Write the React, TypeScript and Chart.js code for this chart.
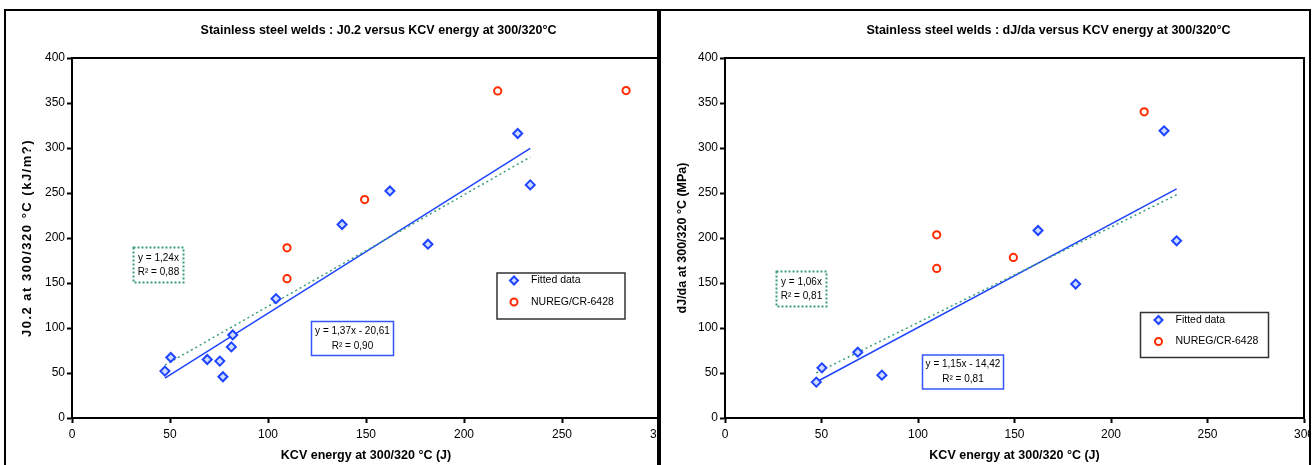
import React, { useEffect, useRef } from 'react';
import { Chart, registerables } from 'chart.js';

Chart.register(...registerables);

// ---------- shared axes ----------
const xTickValues = [0, 50, 100, 150, 200, 250, 300];
const yTickValues = [0, 50, 100, 150, 200, 250, 300, 350, 400];

// ---------- left chart: J0.2 ----------
const kcvFittedJ = [47.4, 50.4, 69.0, 75.4, 77.0, 81.3, 82.0, 104.1, 137.8, 162.2, 181.6, 227.4, 233.8];
const j02Fitted = [52.1, 67.3, 65.0, 63.2, 45.8, 79.0, 92.3, 132.6, 215.0, 252.3, 193.1, 316.1, 259.0];
const kcvNuregJ = [109.7, 109.7, 149.3, 217.2, 282.7];
const j02Nureg = [189.1, 154.8, 242.7, 363.4, 363.8];
const j02Linear = [1.37, -20.61]; // slope, intercept
const j02Proportional = [1.24];

// ---------- right chart: dJ/da ----------
const kcvFittedD = [47.3, 50.2, 68.8, 81.3, 162.2, 181.7, 227.5, 234.0];
const dJdaFitted = [39.9, 55.7, 73.1, 47.6, 208.3, 148.8, 319.1, 196.9];
const kcvNuregD = [109.7, 109.7, 149.4, 217.2];
const dJdaNureg = [203.5, 166.2, 178.4, 340.2];
const dJdaLinear = [1.15, -14.42];
const dJdaProportional = [1.06];

const seriesNames = ['Fitted data', 'NUREG/CR-6428'];

const FONT = '"Liberation Sans", Arial, Helvetica, sans-serif';
const BLUE = '#1f44ff';
const BLUE_FILL = '#cfdcff';
const RED = '#ff2a00';
const GREEN = '#3a9e78';

const zip = (xs: number[], ys: number[]) => xs.map((x, i) => ({ x, y: ys[i] }));

function fitLine(xs: number[], slope: number, intercept: number) {
  const lo = Math.min(...xs);
  const hi = Math.max(...xs);
  return [
    { x: lo, y: slope * lo + intercept },
    { x: hi, y: slope * hi + intercept },
  ];
}

const decorPlugin = {
  id: 'decor',
  afterDraw(chart: any, _args: any, opts: any) {
    const { ctx, chartArea: a } = chart;
    ctx.save();
    // plot frame
    ctx.strokeStyle = '#000';
    ctx.lineWidth = 2;
    ctx.strokeRect(a.left, a.top, a.right - a.left, a.bottom - a.top);

    // title
    ctx.font = `bold 12.5px ${FONT}`;
    ctx.fillStyle = '#000';
    ctx.textAlign = 'center';
    ctx.textBaseline = 'middle';
    ctx.fillText(opts.title, opts.titleX, opts.titleY);

    // y-axis title (rotated)
    ctx.save();
    ctx.translate(opts.yTitleX, (a.top + a.bottom) / 2);
    ctx.rotate(-Math.PI / 2);
    ctx.font = `bold ${opts.yTitleSize}px ${FONT}`;
    (ctx as any).letterSpacing = `${opts.yTitleSpacing}px`;
    ctx.textAlign = 'center';
    ctx.textBaseline = 'middle';
    ctx.fillText(opts.yTitle, 0, 0);
    (ctx as any).letterSpacing = '0px';
    ctx.restore();

    // equation boxes
    for (const b of opts.boxes) {
      ctx.save();
      ctx.fillStyle = '#fff';
      ctx.fillRect(b.x, b.y, b.w, b.h);
      ctx.strokeStyle = b.color;
      ctx.lineWidth = b.lw;
      ctx.setLineDash(b.dash);
      ctx.strokeRect(b.x, b.y, b.w, b.h);
      ctx.restore();
      ctx.font = `10px ${FONT}`;
      ctx.fillStyle = '#000';
      ctx.textAlign = 'center';
      ctx.textBaseline = 'middle';
      b.lines.forEach((t: string, i: number) => {
        ctx.fillText(t, b.x + b.w / 2, b.ly[i]);
      });
    }

    // legend
    const L = opts.legend;
    ctx.fillStyle = '#fff';
    ctx.fillRect(L.x, L.y, L.w, L.h);
    ctx.strokeStyle = '#333';
    ctx.lineWidth = 1.5;
    ctx.strokeRect(L.x, L.y, L.w, L.h);
    const mx = L.x + L.mx;
    let my = L.y + L.row1;
    ctx.beginPath();
    ctx.moveTo(mx, my - 4);
    ctx.lineTo(mx + 4, my);
    ctx.lineTo(mx, my + 4);
    ctx.lineTo(mx - 4, my);
    ctx.closePath();
    ctx.fillStyle = BLUE_FILL;
    ctx.fill();
    ctx.strokeStyle = BLUE;
    ctx.lineWidth = 2;
    ctx.stroke();
    ctx.font = `10.5px ${FONT}`;
    ctx.fillStyle = '#000';
    ctx.textAlign = 'left';
    ctx.textBaseline = 'middle';
    ctx.fillText(seriesNames[0], L.x + L.tx, my);
    my = L.y + L.row2;
    ctx.beginPath();
    ctx.arc(mx, my, 3.5, 0, Math.PI * 2);
    ctx.fillStyle = '#fff';
    ctx.fill();
    ctx.strokeStyle = RED;
    ctx.lineWidth = 2;
    ctx.stroke();
    ctx.fillStyle = '#000';
    ctx.fillText(seriesNames[1], L.x + L.tx, my);
    ctx.restore();
  },
};

function makeConfig(p: any) {
  return {
    type: 'scatter',
    data: {
      datasets: [
        {
          label: seriesNames[0],
          data: zip(p.fx, p.fy),
          pointStyle: 'rectRot',
          pointRadius: 4.5,
          pointBorderWidth: 2,
          borderColor: BLUE,
          backgroundColor: BLUE_FILL,
          order: 0,
        },
        {
          label: seriesNames[1],
          data: zip(p.nx, p.ny),
          pointStyle: 'circle',
          pointRadius: 3.6,
          pointBorderWidth: 2,
          borderColor: RED,
          backgroundColor: '#fff',
          order: 0,
        },
        {
          type: 'line',
          label: 'linear',
          data: fitLine(p.fx, p.lin[0], p.lin[1]),
          borderColor: BLUE,
          borderWidth: 1.5,
          pointRadius: 0,
          order: 2,
        },
        {
          type: 'line',
          label: 'proportional',
          data: fitLine(p.fx, p.prop[0], 0),
          borderColor: GREEN,
          borderWidth: 1.5,
          borderDash: [2, 3],
          pointRadius: 0,
          order: 1,
        },
      ],
    },
    options: {
      animation: false,
      responsive: false,
      devicePixelRatio: 1,
      layout: { padding: { left: 0, top: 58, right: p.padRight, bottom: 0 } },
      plugins: {
        legend: { display: false },
        tooltip: { enabled: false },
        title: { display: false },
        decor: p.decor,
      },
      scales: {
        x: {
          type: 'linear',
          min: xTickValues[0],
          max: xTickValues[xTickValues.length - 1],
          afterBuildTicks: (s: any) => { s.ticks = xTickValues.map((v) => ({ value: v })); },
          afterFit: (s: any) => { s.height = 47; },
          ticks: { color: '#000', font: { family: FONT, size: 12 }, padding: 4, maxRotation: 0, autoSkip: false },
          grid: { drawOnChartArea: false, drawTicks: true, tickLength: 5, tickWidth: 2, tickColor: '#000' },
          border: { display: true, color: '#000', width: 2 },
          title: {
            display: true,
            text: 'KCV energy at 300/320 °C (J)',
            color: '#000',
            font: { family: FONT, size: 12.5, weight: 'bold' },
            padding: { top: 0, bottom: 1.5 },
          },
        },
        y: {
          type: 'linear',
          min: yTickValues[0],
          max: yTickValues[yTickValues.length - 1],
          afterBuildTicks: (s: any) => { s.ticks = yTickValues.map((v) => ({ value: v })); },
          afterFit: (s: any) => { s.width = p.yWidth; },
          ticks: { color: '#000', font: { family: FONT, size: 12 }, padding: 2 },
          grid: { drawOnChartArea: false, drawTicks: true, tickLength: 5, tickWidth: 2, tickColor: '#000' },
          border: { display: true, color: '#000', width: 2 },
          title: { display: false },
        },
      },
    },
    plugins: [decorPlugin],
  };
}

const leftParams = {
  fx: kcvFittedJ, fy: j02Fitted, nx: kcvNuregJ, ny: j02Nureg,
  lin: j02Linear, prop: j02Proportional,
  yWidth: 72, padRight: 40,
  decor: {
    title: 'Stainless steel welds : J0.2 versus KCV energy at 300/320°C',
    titleX: 378.5, titleY: 31,
    yTitle: 'J0.2 at 300/320 °C (kJ/m?)',
    yTitleX: 27, yTitleSize: 13, yTitleSpacing: 1.5,
    boxes: [
      { x: 133.5, y: 247.5, w: 50, h: 35, color: GREEN, lw: 2, dash: [2, 2], lines: ['y = 1,24x', 'R² = 0,88'], ly: [258, 272.5] },
      { x: 311.5, y: 321.5, w: 82, h: 34, color: '#3355ff', lw: 1.5, dash: [], lines: ['y = 1,37x - 20,61', 'R² = 0,90'], ly: [331, 346] },
    ],
    legend: { x: 497, y: 273, w: 128, h: 46, mx: 17, tx: 34, row1: 7.5, row2: 29 },
  },
};

const rightParams = {
  fx: kcvFittedD, fy: dJdaFitted, nx: kcvNuregD, ny: dJdaNureg,
  lin: dJdaLinear, prop: dJdaProportional,
  yWidth: 66, padRight: 55,
  decor: {
    title: 'Stainless steel welds : dJ/da versus KCV energy at 300/320°C',
    titleX: 389.5, titleY: 31,
    yTitle: 'dJ/da at 300/320 °C (MPa)',
    yTitleX: 24, yTitleSize: 12.5, yTitleSpacing: 0,
    boxes: [
      { x: 117.5, y: 271.5, w: 50, h: 35, color: GREEN, lw: 2, dash: [2, 2], lines: ['y = 1,06x', 'R² = 0,81'], ly: [282.5, 296] },
      { x: 263.5, y: 355, w: 81, h: 34, color: '#3355ff', lw: 1.5, dash: [], lines: ['y = 1,15x - 14,42', 'R² = 0,81'], ly: [364.5, 379] },
    ],
    legend: { x: 481.5, y: 312.5, w: 128, h: 45, mx: 18, tx: 35, row1: 7.5, row2: 29 },
  },
};

function Panel({ params, left, width, canvasLeft }: any) {
  const ref = useRef<HTMLCanvasElement | null>(null);
  useEffect(() => {
    if (!ref.current) return;
    const chart = new Chart(ref.current, makeConfig(params) as any);
    return () => chart.destroy();
  }, [params]);
  return (
    <div
      style={{
        position: 'absolute',
        left,
        top: 9,
        width,
        height: 456,
        border: '2px solid #000',
        borderBottom: 'none',
        boxSizing: 'border-box',
        overflow: 'hidden',
        background: '#fff',
      }}
    >
      <canvas
        ref={ref}
        width={700}
        height={465}
        style={{ position: 'absolute', left: canvasLeft, top: -11, width: 700, height: 465 }}
      />
    </div>
  );
}

export default function App() {
  return (
    <div style={{ position: 'absolute', left: 0, top: 0, width: 1314, height: 465, background: '#fff', overflow: 'hidden' }}>
      <Panel params={leftParams} left={4} width={655} canvasLeft={-6} />
      <Panel params={rightParams} left={659} width={652} canvasLeft={-2} />
    </div>
  );
}
